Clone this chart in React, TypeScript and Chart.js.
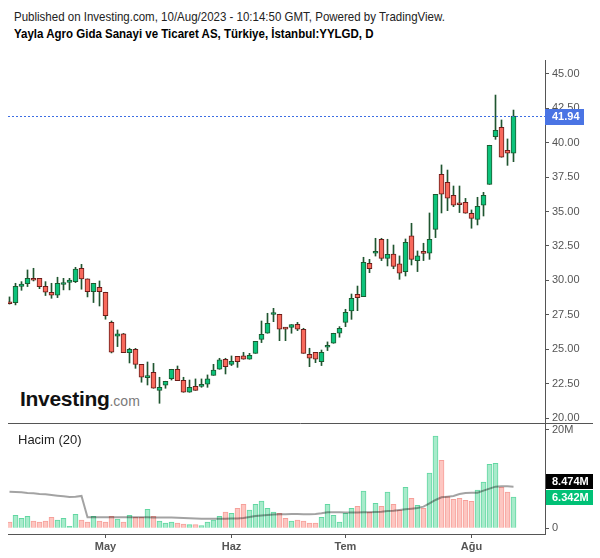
import React, { useEffect, useRef } from "react";
import { Chart, registerables } from "chart.js";

Chart.register(...registerables);

// ---- data ----
const dates = [
  "2023-04-06", "2023-04-07", "2023-04-10", "2023-04-11", "2023-04-12", "2023-04-13", "2023-04-14",
  "2023-04-17", "2023-04-18", "2023-04-19", "2023-04-20", "2023-04-24", "2023-04-25", "2023-04-26",
  "2023-04-27", "2023-04-28",
  "2023-05-02", "2023-05-03", "2023-05-04", "2023-05-05", "2023-05-08", "2023-05-09", "2023-05-10",
  "2023-05-11", "2023-05-12", "2023-05-15", "2023-05-16", "2023-05-17", "2023-05-18", "2023-05-22",
  "2023-05-23", "2023-05-24", "2023-05-25", "2023-05-26", "2023-05-29", "2023-05-30", "2023-05-31",
  "2023-06-01", "2023-06-02", "2023-06-05", "2023-06-06", "2023-06-07", "2023-06-08", "2023-06-09",
  "2023-06-12", "2023-06-13", "2023-06-14", "2023-06-15", "2023-06-16", "2023-06-19", "2023-06-20",
  "2023-06-21", "2023-06-22", "2023-06-23", "2023-06-26", "2023-06-27",
  "2023-07-03", "2023-07-04", "2023-07-05", "2023-07-06", "2023-07-07", "2023-07-10", "2023-07-11",
  "2023-07-12", "2023-07-13", "2023-07-14", "2023-07-17", "2023-07-18", "2023-07-19", "2023-07-20",
  "2023-07-21", "2023-07-24", "2023-07-25", "2023-07-26", "2023-07-27", "2023-07-28", "2023-07-31",
  "2023-08-01", "2023-08-02", "2023-08-03", "2023-08-04", "2023-08-07", "2023-08-08", "2023-08-09",
  "2023-08-10",
];

const opens = [
  28.35, 28.38, 29.57, 29.77, 30.15, 30.15, 29.57, 29.14, 28.92, 29.70,
  29.86, 29.91, 30.88, 30.11, 29.19, 29.50, 29.14, 26.96, 25.94, 26.11,
  24.75, 24.99, 23.90, 22.94, 23.32, 22.01, 22.38, 22.86, 23.54, 22.74,
  21.87, 22.30, 22.30, 22.45, 23.10, 23.54, 24.27, 23.90, 24.48, 24.51,
  24.27, 24.70, 25.72, 26.16, 27.52, 27.54, 26.50, 26.59, 26.81, 26.45,
  24.63, 24.77, 24.10, 25.14, 25.43, 26.16, 26.95, 27.78, 28.99, 28.82,
  31.24, 31.97, 32.99, 31.60, 31.92, 31.20, 30.64, 33.23, 31.44, 32.03,
  31.97, 33.71, 37.71, 37.13, 36.18, 35.54, 35.67, 34.88, 34.44, 35.46,
  36.98, 40.45, 41.12, 39.45, 39.24,
];
const highs = [
  28.80, 29.79, 29.91, 30.76, 30.88, 30.15, 29.91, 29.79, 30.23, 30.15,
  30.15, 30.95, 31.17, 30.11, 29.79, 29.96, 29.14, 27.05, 26.40, 26.15,
  25.07, 25.06, 23.90, 24.07, 23.97, 22.96, 22.67, 23.54, 23.78, 22.96,
  22.76, 22.84, 22.84, 23.13, 23.90, 24.34, 24.34, 24.51, 24.48, 24.77,
  24.70, 25.57, 27.05, 27.61, 27.97, 27.54, 26.59, 26.79, 26.95, 26.52,
  25.07, 24.77, 24.94, 25.53, 26.16, 26.64, 27.90, 29.01, 29.59, 31.68,
  31.53, 33.06, 33.06, 32.99, 32.57, 31.78, 33.01, 34.15, 32.14, 32.70,
  34.90, 36.25, 38.39, 38.02, 36.86, 36.86, 35.96, 35.12, 36.04, 36.40,
  39.82, 43.47, 41.66, 40.28, 42.38,
];
const lows = [
  28.28, 28.22, 29.28, 29.55, 29.96, 29.40, 28.90, 28.70, 28.75, 29.31,
  29.31, 29.84, 29.36, 28.80, 28.39, 28.14, 27.18, 24.73, 25.19, 24.75,
  24.00, 23.61, 22.60, 22.40, 22.16, 21.07, 22.16, 22.76, 22.72, 21.87,
  21.87, 22.01, 22.23, 22.23, 23.10, 23.54, 23.20, 23.81, 23.68, 24.27,
  24.27, 24.70, 25.48, 26.16, 27.00, 25.62, 25.62, 26.16, 26.35, 24.70,
  23.73, 24.02, 23.81, 24.90, 25.43, 25.87, 26.64, 27.17, 27.80, 28.82,
  30.56, 31.77, 31.44, 31.05, 30.85, 30.08, 30.32, 31.12, 30.64, 31.44,
  31.53, 33.11, 34.90, 35.07, 35.36, 34.93, 34.88, 33.79, 34.03, 34.68,
  36.98, 40.25, 38.95, 38.36, 38.63,
];
const closes = [
  28.30, 29.57, 29.74, 30.15, 30.01, 29.55, 29.14, 28.92, 29.79, 29.74,
  30.03, 30.83, 30.11, 29.19, 29.79, 29.19, 27.44, 24.78, 26.11, 24.75,
  24.99, 23.90, 22.96, 22.98, 22.16, 22.23, 22.67, 23.54, 22.72, 21.87,
  22.23, 22.01, 22.45, 22.84, 23.49, 24.22, 23.73, 24.12, 24.10, 24.27,
  24.56, 25.57, 26.08, 26.88, 27.54, 26.45, 26.46, 26.79, 26.45, 24.70,
  24.34, 24.27, 24.77, 25.24, 26.16, 26.52, 27.68, 28.70, 28.75, 31.31,
  30.85, 32.12, 31.60, 31.90, 31.02, 30.52, 32.77, 31.53, 31.78, 31.96,
  32.99, 36.25, 36.26, 35.97, 35.46, 35.50, 34.88, 34.51, 35.38, 36.18,
  39.82, 40.91, 38.95, 39.24, 41.94,
];
// volume, millions of shares
const volumes = [
  1.29, 2.64, 2.03, 2.44, 1.49, 1.29, 1.49, 2.24, 1.69, 2.03,
  0.41, 2.85, 1.69, 1.29, 2.44, 1.49, 1.29, 2.44, 1.90, 1.29,
  2.64, 2.24, 2.24, 3.86, 2.44, 1.49, 1.08, 1.29, 1.08, 0.88,
  0.75, 0.75, 0.54, 1.29, 1.69, 2.44, 3.32, 3.05, 4.07, 4.88,
  3.73, 4.88, 5.56, 4.07, 3.32, 3.05, 2.03, 1.49, 1.69, 1.49,
  1.08, 1.08, 2.24, 4.88, 2.64, 1.29, 3.05, 4.07, 4.47, 7.59,
  3.32, 5.08, 4.47, 7.39, 4.88, 3.73, 8.34, 6.10, 4.68, 4.07,
  11.25, 18.78, 13.83, 6.44, 5.90, 6.10, 5.69, 5.49, 7.80, 9.42,
  13.02, 13.22, 8.34, 7.39, 6.342,
];
// 20-day volume average, millions
const volumeMA = [
  7.46, 7.39, 7.32, 7.19, 7.12, 6.98, 6.92, 6.78, 6.64, 6.51,
  6.37, 6.44, 6.58, 2.24, 2.24, 2.24, 2.24, 2.24, 2.24, 2.24,
  2.24, 2.24, 2.24, 2.24, 2.20, 2.20, 2.20, 2.20, 2.15, 2.10,
  2.05, 2.00, 1.95, 1.95, 1.95, 1.95, 1.95, 1.97, 2.00, 2.10,
  2.30, 2.50, 2.60, 2.70, 2.80, 2.85, 2.85, 2.90, 2.90, 2.85,
  2.85, 2.90, 3.05, 3.25, 3.25, 3.25, 3.19, 3.19, 3.19, 3.25,
  3.25, 3.32, 3.39, 3.53, 3.59, 3.73, 3.86, 4.00, 4.14, 4.41,
  5.08, 5.76, 6.31, 6.44, 6.58, 6.98, 7.19, 7.25, 7.25, 7.66,
  8.07, 8.47, 8.54, 8.54, 8.474,
];

const priceTicks = [20, 22.5, 25, 27.5, 30, 32.5, 35, 37.5, 40, 42.5, 45];
const volumeTicks = [0, 20];
const volumeTickLabels = ["0", "20M"];
const monthStarts = ["2023-05-02", "2023-06-01", "2023-07-03", "2023-08-01"];
const monthLabels = ["May", "Haz", "Tem", "Ağu"];

// ---- styles ----
const FONT = "'Liberation Sans', Arial, sans-serif";
const UP_BODY = "#0dc27b";
const UP_BORDER = "#1c5a30";
const DOWN_BODY = "#f8695c";
const DOWN_BORDER = "#6c1d1a";
const WICK = "#1f5530";
const VOL_UP_FILL = "#a8ebcb";
const VOL_UP_BORDER = "#62d7a2";
const VOL_DOWN_FILL = "#fdc6c1";
const VOL_DOWN_BORDER = "#f6a09a";
const AXIS = "#555555";

const overlayPlugin = {
  id: "overlay",
  afterDraw(chart: any) {
    const ctx = chart.ctx;
    const { left, right } = chart.chartArea;
    const y = chart.scales.y;
    const yv = chart.scales.yv;
    ctx.save();
    // separator between panes
    ctx.strokeStyle = AXIS;
    ctx.lineWidth = 1;
    const sy = Math.round(yv.top) + 0.5;
    ctx.beginPath();
    ctx.moveTo(left, sy);
    ctx.lineTo(593, sy);
    ctx.stroke();

    // last price line
    const last = closes[closes.length - 1];
    const py = y.getPixelForValue(last);
    const pyr = Math.round(py) + 0.5;
    ctx.setLineDash([2, 2]);
    ctx.strokeStyle = "#3d6ee3";
    ctx.beginPath();
    ctx.moveTo(left, pyr);
    ctx.lineTo(right, pyr);
    ctx.stroke();
    ctx.setLineDash([]);

    ctx.font = `bold 11px ${FONT}`;
    ctx.textBaseline = "middle";
    ctx.textAlign = "left";

    ctx.fillStyle = "#4a74e4";
    ctx.fillRect(right, Math.round(py) - 7, 39, 16);
    ctx.fillStyle = "#ffffff";
    ctx.fillText(last.toFixed(2), right + 7, Math.round(py) + 1);

    // volume labels
    const vLast = volumes[volumes.length - 1];
    const maLast = volumeMA[volumeMA.length - 1];
    const vy = Math.round(yv.getPixelForValue(vLast));
    let my = Math.round(yv.getPixelForValue(maLast));
    if (my > vy - 16) my = vy - 16;
    ctx.fillStyle = "#000000";
    ctx.fillRect(right + 1, my - 7, 47, 15);
    ctx.fillStyle = "#ffffff";
    ctx.fillText(maLast.toFixed(3) + "M", right + 7, my + 1);
    const lastUp = closes[closes.length - 1] >= opens[opens.length - 1];
    ctx.fillStyle = lastUp ? "#00c176" : "#f6685b";
    ctx.fillRect(right + 1, vy - 7, 47, 15);
    ctx.fillStyle = "#ffffff";
    ctx.fillText(vLast.toFixed(3) + "M", right + 7, vy + 1);
    ctx.restore();
  },
};

export default function App() {
  const ref = useRef<HTMLCanvasElement | null>(null);

  useEffect(() => {
    if (!ref.current) return;
    const idx = dates.map((_, i) => i);
    const isUp = idx.map((i) => closes[i] >= opens[i]);
    const monthIdx = monthStarts.map((d) => dates.indexOf(d));

    const chart = new Chart(ref.current, {
      type: "bar",
      data: {
        datasets: [
          {
            type: "line",
            label: "Hacim MA",
            data: idx.map((i) => ({ x: i, y: volumeMA[i] })),
            yAxisID: "yv",
            borderColor: "rgba(0,0,0,0.36)",
            borderWidth: 2,
            pointRadius: 0,
            tension: 0,
            order: 0,
          } as any,
          {
            label: "body",
            data: idx.map((i) => ({ x: i, y: [opens[i], closes[i]] })),
            yAxisID: "y",
            backgroundColor: isUp.map((u) => (u ? UP_BODY : DOWN_BODY)),
            borderColor: isUp.map((u) => (u ? UP_BORDER : DOWN_BORDER)),
            borderWidth: 1,
            borderSkipped: false,
            barThickness: 5,
            minBarLength: 2,
            grouped: false,
            order: 1,
          } as any,
          {
            label: "wick",
            data: idx.map((i) => ({ x: i, y: [lows[i], highs[i]] })),
            yAxisID: "y",
            backgroundColor: WICK,
            borderWidth: 0,
            barThickness: 1,
            grouped: false,
            order: 2,
          } as any,
          {
            label: "Hacim",
            data: idx.map((i) => ({ x: i, y: volumes[i] })),
            yAxisID: "yv",
            backgroundColor: isUp.map((u) => (u ? VOL_UP_FILL : VOL_DOWN_FILL)),
            borderColor: isUp.map((u) => (u ? VOL_UP_BORDER : VOL_DOWN_BORDER)),
            borderWidth: 1,
            borderSkipped: "bottom",
            barThickness: 5,
            grouped: false,
            order: 3,
          } as any,
        ],
      },
      options: {
        responsive: false,
        animation: false,
        devicePixelRatio: 1,
        layout: { padding: { top: 60, left: 8, right: 0, bottom: 0 } },
        plugins: { legend: { display: false }, tooltip: { enabled: false } },
        scales: {
          x: {
            type: "linear",
            min: -0.25,
            max: 89.25,
            offset: false,
            grid: { offset: false, drawOnChartArea: false, drawTicks: true, tickLength: 4, color: AXIS },
            border: { display: true, color: AXIS, width: 1 },
            afterBuildTicks: (s: any) => {
              s.ticks = monthIdx.map((v) => ({ value: v }));
            },
            afterFit: (s: any) => {
              s.height = 24;
            },
            ticks: {
              autoSkip: false,
              maxRotation: 0,
              padding: 2,
              color: AXIS,
              font: { family: FONT, size: 11, weight: "bold" },
              callback: (v: any) => {
                const k = monthIdx.indexOf(Number(v));
                return k >= 0 ? monthLabels[k] : "";
              },
            },
          },
          y: {
            type: "linear",
            position: "right",
            stack: "panes",
            stackWeight: 363,
            min: 19.637,
            max: 46.017,
            grid: { drawOnChartArea: false, drawTicks: true, tickLength: 4, color: AXIS },
            border: { display: true, color: AXIS, width: 1 },
            afterBuildTicks: (s: any) => {
              s.ticks = priceTicks.map((v) => ({ value: v }));
            },
            afterFit: (s: any) => {
              s.width = 55;
            },
            ticks: {
              autoSkip: false,
              padding: 3,
              color: AXIS,
              font: { family: FONT, size: 11 },
              callback: (v: any) => Number(v).toFixed(2),
            },
          },
          yv: {
            type: "linear",
            position: "right",
            stack: "panes",
            stackWeight: 111,
            min: -1.16,
            max: 21.424,
            grid: { drawOnChartArea: false, drawTicks: true, tickLength: 4, color: AXIS },
            border: { display: true, color: AXIS, width: 1 },
            afterBuildTicks: (s: any) => {
              s.ticks = volumeTicks.map((v) => ({ value: v }));
            },
            afterFit: (s: any) => {
              s.width = 55;
            },
            ticks: {
              autoSkip: false,
              padding: 3,
              color: AXIS,
              font: { family: FONT, size: 11 },
              callback: (v: any) => {
                const k = volumeTicks.indexOf(Number(v));
                return k >= 0 ? volumeTickLabels[k] : "";
              },
            },
          },
        },
      } as any,
      plugins: [overlayPlugin],
    });
    return () => chart.destroy();
  }, []);

  return (
    <div
      style={{
        position: "absolute",
        left: 0,
        top: 0,
        width: 600,
        height: 558,
        background: "#ffffff",
        overflow: "hidden",
        fontFamily: FONT,
      }}
    >
      <div
        style={{
          position: "absolute",
          left: 14,
          top: 8.5,
          fontSize: 13,
          lineHeight: "15px",
          whiteSpace: "nowrap",
          color: "#222",
          transform: "scaleX(0.885)",
          transformOrigin: "left top",
        }}
      >
        Published on Investing.com, 10/Aug/2023 - 10:14:50 GMT, Powered by TradingView.
      </div>
      <div
        style={{
          position: "absolute",
          left: 14,
          top: 25.5,
          fontSize: 13,
          lineHeight: "15px",
          fontWeight: "bold",
          whiteSpace: "nowrap",
          color: "#000",
          transform: "scaleX(0.885)",
          transformOrigin: "left top",
        }}
      >
        Yayla Agro Gida Sanayi ve Ticaret AS, Türkiye, İstanbul:YYLGD, D
      </div>
      <div
        style={{
          position: "absolute",
          left: 20,
          top: 387,
          whiteSpace: "nowrap",
          lineHeight: "24px",
        }}
      >
        <span style={{ fontSize: 21, fontWeight: "bold", color: "#111", letterSpacing: -0.3 }}>Investing</span>
        <span style={{ fontSize: 14, color: "#7a7a7a" }}>.com</span>
      </div>
      <canvas
        ref={ref}
        width={600}
        height={558}
        style={{ position: "absolute", left: 0, top: 0, width: 600, height: 558 }}
      />
      <div
        style={{
          position: "absolute",
          left: 18,
          top: 432,
          fontSize: 13,
          lineHeight: "15px",
          color: "#222",
          whiteSpace: "nowrap",
        }}
      >
        Hacim (20)
      </div>
    </div>
  );
}
